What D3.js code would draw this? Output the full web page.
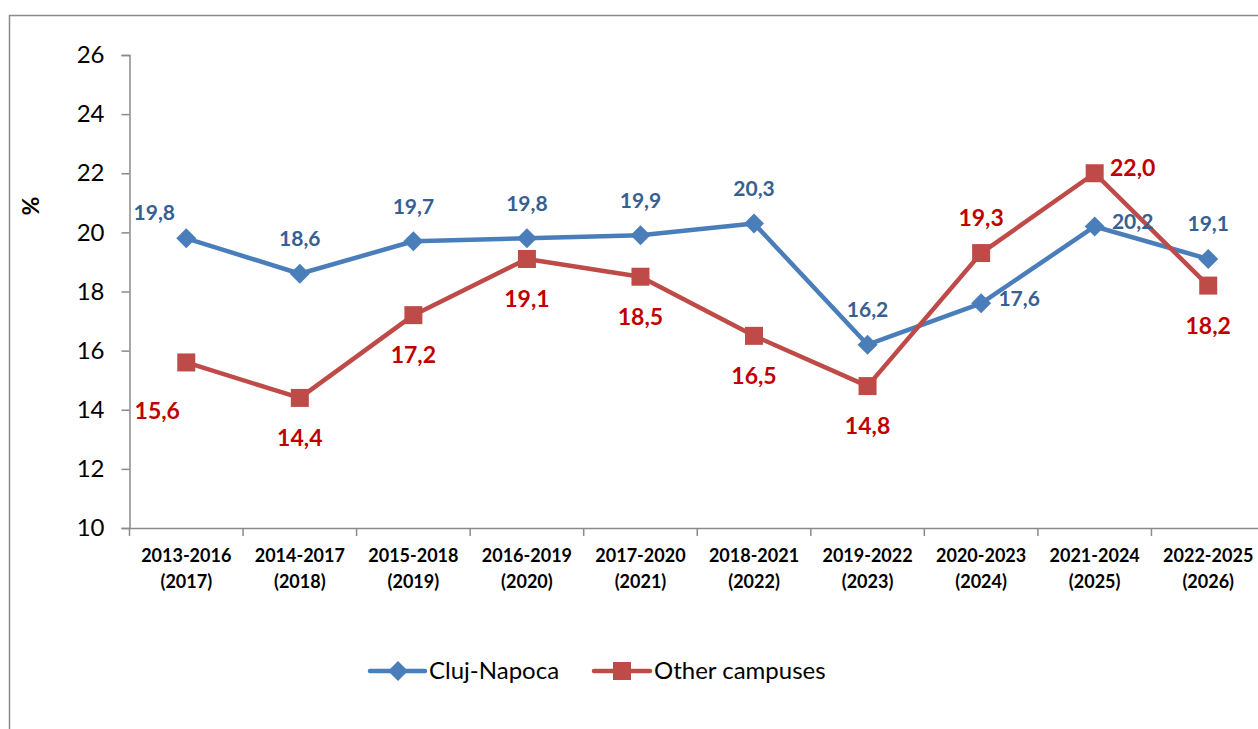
<!DOCTYPE html>
<html>
<head>
<meta charset="utf-8">
<title>Cluj-Napoca vs other campuses</title>
<script src="https://cdn.jsdelivr.net/npm/d3@7"></script>
<style>
body { margin: 0; background: #fff; }
text { font-family: Lato, "Open Sans", sans-serif; }
</style>
</head>
<body>
<div id="chart"></div>
<script>
// data
var categories = ["2013-2016|(2017)", "2014-2017|(2018)", "2015-2018|(2019)", "2016-2019|(2020)",
  "2017-2020|(2021)", "2018-2021|(2022)", "2019-2022|(2023)", "2020-2023|(2024)",
  "2021-2024|(2025)", "2022-2025|(2026)"];
var cluj = [19.8, 18.6, 19.7, 19.8, 19.9, 20.3, 16.2, 17.6, 20.2, 19.1];
var other = [15.6, 14.4, 17.2, 19.1, 18.5, 16.5, 14.8, 19.3, 22.0, 18.2];
var yTicks = [10, 12, 14, 16, 18, 20, 22, 24, 26];
var seriesNames = ["Cluj-Napoca", "Other campuses"];

// where each data label sits relative to its point
var clujPos = ["upleft", "up", "up", "up", "up", "up", "up", "right", "right", "up"];
var otherPos = ["downleft", "down", "down", "down", "down", "down", "down", "up", "right", "down"];

var W = 1258, H = 729;
var svg = d3.select("#chart").append("svg").attr("width", W).attr("height", H);

// outer frame (runs off the right and bottom edge)
svg.append("rect").attr("x", 9.5).attr("y", 15.5).attr("width", 1300).attr("height", 800)
  .attr("fill", "none").attr("stroke", "#8c8c8c").attr("stroke-width", 1.5);

var x = d3.scaleBand().domain(categories).range([129.5, 1265]);
var y = d3.scaleLinear().domain([10, 26]).range([528, 55]);

var axisColor = "#8a8a8a";

var yAxis = svg.append("g").attr("transform", "translate(129.5,0)")
  .call(d3.axisLeft(y).tickValues(yTicks).tickSize(8).tickPadding(17).tickFormat(d3.format("d")));
yAxis.select(".domain").attr("stroke", axisColor).attr("stroke-width", 1.5);
yAxis.selectAll(".tick line").attr("stroke", axisColor).attr("stroke-width", 1.5);
yAxis.selectAll(".tick text").attr("font-size", 24).attr("fill", "#000")
  .style("font-family", "Lato, sans-serif");

var xAxis = svg.append("g").attr("transform", "translate(0,528)")
  .call(d3.axisBottom(x).tickSize(0).tickFormat(""));
xAxis.select(".domain").attr("stroke", axisColor).attr("stroke-width", 1.5);
// category boundary ticks
svg.append("g").selectAll("line").data(categories).enter().append("line")
  .attr("x1", function(d) { return x(d); }).attr("x2", function(d) { return x(d); })
  .attr("y1", 528).attr("y2", 536).attr("stroke", axisColor).attr("stroke-width", 1.5);

var xl = svg.append("g").selectAll("text").data(categories).enter().append("text")
  .attr("text-anchor", "middle").attr("font-size", 18).attr("font-weight", "bold").attr("fill", "#000");
xl.each(function(d) {
  var parts = d.split("|"), t = d3.select(this), cx = x(d) + x.bandwidth() / 2;
  t.append("tspan").attr("x", cx).attr("y", 562).text(parts[0]);
  t.append("tspan").attr("x", cx).attr("y", 588).text(parts[1]);
});

svg.append("text").attr("transform", "translate(39,206) rotate(-90)")
  .attr("text-anchor", "middle").attr("font-size", 23).attr("font-weight", "bold").text("%");

var cx = function(i) { return x(categories[i]) + x.bandwidth() / 2; };
var line = d3.line().x(function(d, i) { return cx(i); }).y(function(d) { return y(d); });

var blue = "#4a7ebb", red = "#be4b48";

function diamondPath(px, py, r) {
  return "M" + px + "," + (py - r) + "L" + (px + r) + "," + py + "L" + px + "," + (py + r) + "L" + (px - r) + "," + py + "Z";
}

// Cluj line
svg.append("path").datum(cluj).attr("d", line).attr("fill", "none")
  .attr("stroke", blue).attr("stroke-width", 4.5).attr("stroke-linejoin", "round");
// other line
svg.append("path").datum(other).attr("d", line).attr("fill", "none")
  .attr("stroke", red).attr("stroke-width", 4.5).attr("stroke-linejoin", "round");

svg.append("g").selectAll("path").data(cluj).enter().append("path")
  .attr("d", function(d, i) { return diamondPath(cx(i), y(d), 10); }).attr("fill", blue);
svg.append("g").selectAll("rect").data(other).enter().append("rect")
  .attr("x", function(d, i) { return cx(i) - 9; }).attr("y", function(d) { return y(d) - 9; })
  .attr("width", 18).attr("height", 18).attr("fill", red);

var offs = {
  up: [0, -35], down: [0, 40], right: [38, -5], upleft: [-32, -26], downleft: [-29, 48]
};

function labels(data, pos, color, size) {
  svg.append("g").selectAll("text").data(data).enter().append("text")
    .attr("x", function(d, i) { return cx(i) + offs[pos[i]][0]; })
    .attr("y", function(d, i) { return y(d) + offs[pos[i]][1]; })
    .attr("dy", "0.35em")
    .attr("text-anchor", "middle").attr("font-size", size).attr("font-weight", "bold")
    .attr("fill", color)
    .text(function(d) { return d.toFixed(1).replace(".", ","); });
}
labels(cluj, clujPos, "#376092", 21);
labels(other, otherPos, "#c00000", 23);

// legend
var lg = svg.append("g");
lg.append("line").attr("x1", 370).attr("x2", 425).attr("y1", 671).attr("y2", 671)
  .attr("stroke", blue).attr("stroke-width", 4.5).attr("stroke-linecap", "round");
lg.append("path").attr("d", diamondPath(398, 671, 10)).attr("fill", blue);
lg.append("text").attr("x", 429).attr("y", 671).attr("dy", "0.35em").attr("font-size", 24)
  .text(seriesNames[0]);
lg.append("line").attr("x1", 594).attr("x2", 650).attr("y1", 671).attr("y2", 671)
  .attr("stroke", red).attr("stroke-width", 4.5).attr("stroke-linecap", "round");
lg.append("rect").attr("x", 613).attr("y", 662).attr("width", 18).attr("height", 18).attr("fill", red);
lg.append("text").attr("x", 654).attr("y", 671).attr("dy", "0.35em").attr("font-size", 24)
  .text(seriesNames[1]);
</script>
</body>
</html>
